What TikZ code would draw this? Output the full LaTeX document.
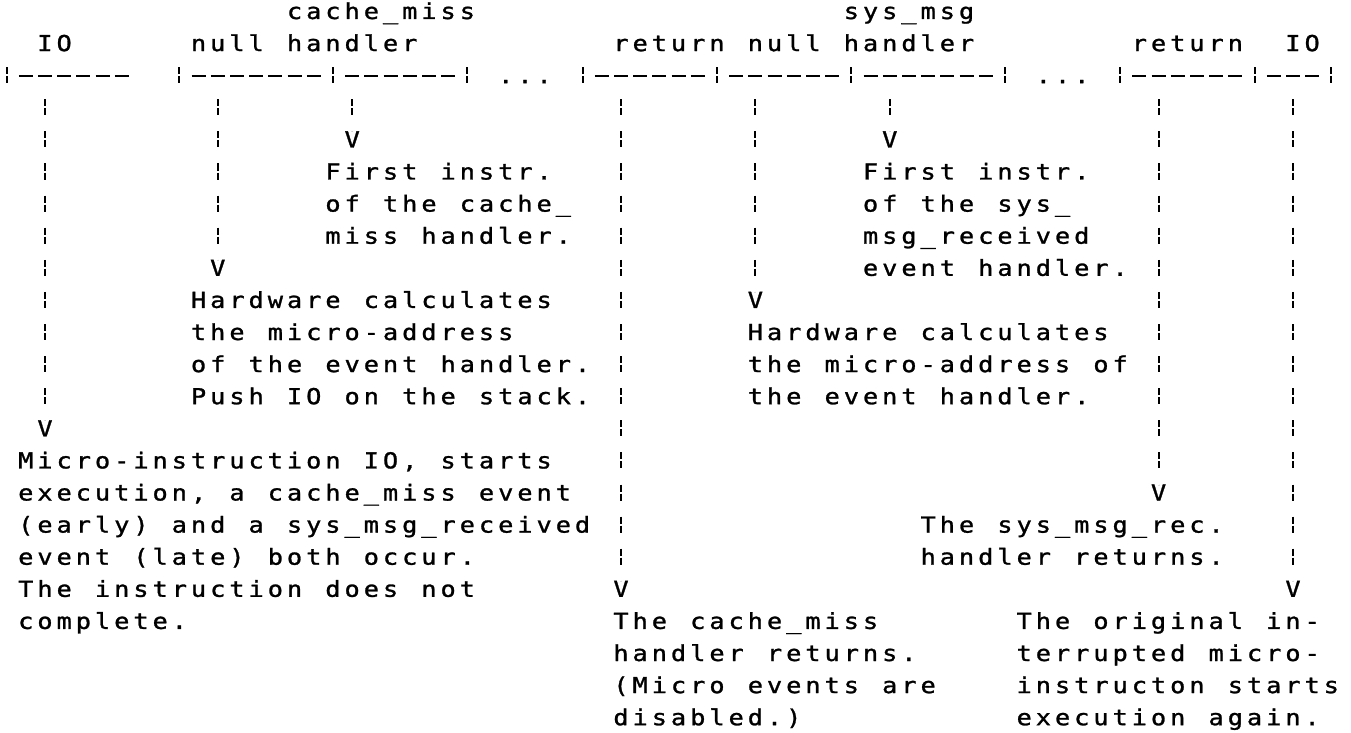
\documentclass[tikz,border=0pt]{standalone}
\usepackage{fontspec}
\newfontfamily\monofont[FakeBold=1.2,FakeStretch=1.15]{DejaVu Sans Mono}
\newlength\cellw
\setlength\cellw{9.6pt}
% set a string on a fixed character grid, one cell per character
\ExplSyntaxOn
\NewDocumentCommand \cells { m } { \str_map_inline:nn {#1} { \makebox[\cellw][c]{##1} } }
\ExplSyntaxOff
\begin{document}
\begin{tikzpicture}[x=9.6pt, y=-16.05pt,
  txt/.style={anchor=base west, inner sep=0pt, outer sep=0pt,
              font={\monofont\fontsize{11pt}{16pt}\selectfont}},
  vmark/.style={txt, text height=8pt, text depth=0pt},
  conn/.style={line width=1pt, dash pattern=on 3.5pt off 1pt on 3.5pt off 8.05pt},
  rule/.style={line width=1pt, dash pattern=on 7pt off 2.6pt}]
% page frame (grid units: one column wide, one text line high)
\fill[white] (0.15625,-0.5919) rectangle (70.5208,22.243);
\useasboundingbox (0.15625,-0.5919) rectangle (70.5208,22.243);

% ---- labels above the time line
\node[txt] (lblCache)    at (15,0) {\cells{cache_miss}};
\node[txt] (lblSys)      at (44,0) {\cells{sys_msg}};
\node[txt] (lblIO)       at (2,1)  {\cells{IO}};
\node[txt] (lblNull)     at (10,1) {\cells{null}};
\node[txt] (lblHandler)  at (15,1) {\cells{handler}};
\node[txt] (lblReturn)   at (32,1) {\cells{return}};
\node[txt] (lblNullB)    at (39,1) {\cells{null}};
\node[txt] (lblHandlerB) at (44,1) {\cells{handler}};
\node[txt] (lblReturnB)  at (59,1) {\cells{return}};
\node[txt] (lblIOB)      at (67,1) {\cells{IO}};

% ---- time line: segment marks, dashes and elisions
\foreach \c in {0,9,17,24,30,37,44,52,58,65,69}
  \draw[conn] ([yshift=8pt]\c+0.5,2) -- (\c+0.5,2);
\foreach \a/\b in {1/6,10/16,18/23,31/36,38/43,45/51,59/64,66/68}
  \draw[rule] ([xshift=1.3pt,yshift=3.5pt]\a,2) -- ([xshift=-1.3pt,yshift=3.5pt]\b+1,2);
\node[txt] (dotsA) at (26,2) {\cells{...}};
\node[txt] (dotsB) at (54,2) {\cells{...}};

% ---- arrow heads
\node[vmark] (vIO)       at (2,13)  {\cells{V}};
\node[vmark] (vNull)     at (11,8)  {\cells{V}};
\node[vmark] (vHandler)  at (18,4)  {\cells{V}};
\node[vmark] (vReturn)   at (32,18) {\cells{V}};
\node[vmark] (vNullB)    at (39,9)  {\cells{V}};
\node[vmark] (vHandlerB) at (46,4)  {\cells{V}};
\node[vmark] (vReturnB)  at (60,15) {\cells{V}};
\node[vmark] (vIOB)      at (67,18) {\cells{V}};

% ---- vertical connectors, from just below the time line down to the heads
\foreach \n/\c in {IO/2,Null/11,Handler/18,Return/32,NullB/39,HandlerB/46,ReturnB/60,IOB/67}{
  \coordinate (t\n) at ([yshift=8pt]\c+0.5,3);
  \draw[conn] (t\n) -- (v\n.north);
}

% ---- cache_miss branch
\node[txt] (firstA1) at (17,5) {\cells{First instr.}};
\node[txt] (firstA2) at (17,6) {\cells{of the cache_}};
\node[txt] (firstA3) at (17,7) {\cells{miss handler.}};
\node[txt] (hwA1) at (10,9)  {\cells{Hardware calculates}};
\node[txt] (hwA2) at (10,10) {\cells{the micro-address}};
\node[txt] (hwA3) at (10,11) {\cells{of the event handler.}};
\node[txt] (hwA4) at (10,12) {\cells{Push IO on the stack.}};

% ---- the interrupted micro-instruction
\node[txt] (ioA1) at (1,14) {\cells{Micro-instruction IO, starts}};
\node[txt] (ioA2) at (1,15) {\cells{execution, a cache_miss event}};
\node[txt] (ioA3) at (1,16) {\cells{(early) and a sys_msg_received}};
\node[txt] (ioA4) at (1,17) {\cells{event (late) both occur.}};
\node[txt] (ioA5) at (1,18) {\cells{The instruction does not}};
\node[txt] (ioA6) at (1,19) {\cells{complete.}};

% ---- sys_msg branch
\node[txt] (firstB1) at (45,5) {\cells{First instr.}};
\node[txt] (firstB2) at (45,6) {\cells{of the sys_}};
\node[txt] (firstB3) at (45,7) {\cells{msg_received}};
\node[txt] (firstB4) at (45,8) {\cells{event handler.}};
\node[txt] (hwB1) at (39,10) {\cells{Hardware calculates}};
\node[txt] (hwB2) at (39,11) {\cells{the micro-address of}};
\node[txt] (hwB3) at (39,12) {\cells{the event handler.}};
\node[txt] (retB1) at (48,16) {\cells{The sys_msg_rec.}};
\node[txt] (retB2) at (48,17) {\cells{handler returns.}};

% ---- returns
\node[txt] (retA1) at (32,19) {\cells{The cache_miss}};
\node[txt] (retA2) at (32,20) {\cells{handler returns.}};
\node[txt] (retA3) at (32,21) {\cells{(Micro events are}};
\node[txt] (retA4) at (32,22) {\cells{disabled.)}};
\node[txt] (origB1) at (53,19) {\cells{The original in-}};
\node[txt] (origB2) at (53,20) {\cells{terrupted micro-}};
\node[txt] (origB3) at (53,21) {\cells{instructon starts}};
\node[txt] (origB4) at (53,22) {\cells{execution again.}};
\end{tikzpicture}
\end{document}
